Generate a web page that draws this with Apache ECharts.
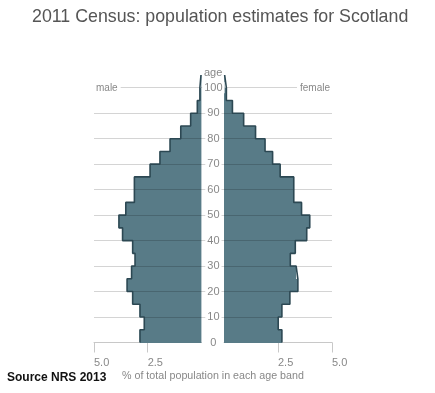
<!DOCTYPE html>
<html>
<head>
<meta charset="utf-8">
<script src="https://cdn.jsdelivr.net/npm/echarts@6/dist/echarts.min.js"></script>
<style>
html,body{margin:0;padding:0;background:#fff;}
#chart{width:435px;height:393px;}
</style>
</head>
<body>
<div id="chart"></div>
<script>
// Age band starts (each band is 5 years wide; last band is 100+)
const bandStarts = [0,5,10,15,20,25,30,35,40,45,50,55,60,65,70,75,80,85,90,95,100];
const bandWidth = 5;
// % of total population in each age band
const male   = [2.86,2.66,2.86,3.20,3.46,3.25,3.09,3.20,3.67,3.84,3.52,3.12,3.12,2.39,1.93,1.46,0.96,0.50,0.19,0.07,0.02];
const female = [2.68,2.51,2.68,3.05,3.42,3.34,3.07,3.30,3.83,3.97,3.59,3.23,3.23,2.60,2.25,1.90,1.46,0.91,0.39,0.11,0.03];
const xTicks = [2.5, 5];

const FILL = '#587b87';
const EDGE = '#2c4853';
const GRID_COLOR = 'rgba(0,0,0,0.17)';
const AXIS_COLOR = '#c8c8c8';
const LABEL_COLOR = '#888';
const FONT = 'Liberation Sans, Arial, sans-serif';

function bandData(vals){
  return vals.map((v,i)=>[bandStarts[i], bandStarts[i]+bandWidth, v]);
}
function outlineData(vals){
  const pts = [];
  vals.forEach((v,i)=>{ pts.push([v, bandStarts[i]]); pts.push([v, bandStarts[i]+bandWidth]); });
  return pts;
}
function renderBand(params, api){
  const p0 = api.coord([0, api.value(0)]);
  const p1 = api.coord([api.value(2), api.value(1)]);
  const y0 = Math.round(Math.min(p0[1], p1[1]));
  const y1 = Math.round(Math.max(p0[1], p1[1]));
  return {
    type: 'rect',
    shape: {
      x: Math.min(p0[0], p1[0]),
      y: y0,
      width: Math.abs(p1[0]-p0[0]),
      height: y1 - y0
    },
    style: { fill: FILL }
  };
}

const yMax = 105;
const chart = echarts.init(document.getElementById('chart'), null, {renderer:'canvas'});

const xAxisCommon = {
  type: 'value', min: 0, max: 5, interval: 2.5,
  axisLine: { show: true, lineStyle: { color: AXIS_COLOR, width: 1 } },
  axisTick: { show: true, length: 10, customValues: xTicks, lineStyle: { color: AXIS_COLOR } },
  axisLabel: { customValues: xTicks, align: 'left', margin: 15, color: LABEL_COLOR, fontSize: 11,
               fontFamily: FONT, formatter: v => v.toFixed(1) },
  splitLine: { show: false }
};

chart.setOption({
  animation: false,
  backgroundColor: '#fff',
  title: [
    { text: '2011 Census: population estimates for Scotland', left: 32, top: 8, padding: 0,
      textStyle: { fontSize: 17.8, fontWeight: 'normal', color: '#555', fontFamily: FONT } },
    { text: 'male', left: 93, top: 83, padding: [0,3,0,3], backgroundColor: '#fff',
      textStyle: { fontSize: 10, fontWeight: 'normal', color: LABEL_COLOR, fontFamily: FONT } },
    { text: 'female', left: 297, top: 83, padding: [0,3,0,3], backgroundColor: '#fff',
      textStyle: { fontSize: 10, fontWeight: 'normal', color: LABEL_COLOR, fontFamily: FONT } },
    { text: 'age', left: 204, top: 67, padding: 0,
      textStyle: { fontSize: 11, fontWeight: 'normal', color: LABEL_COLOR, fontFamily: FONT } },
    { text: 'Source NRS 2013', left: 7, top: 372, padding: 0,
      textStyle: { fontSize: 12, fontWeight: 'bold', color: '#111', fontFamily: FONT } },
    { text: '% of total population in each age band', left: 122, top: 371, padding: 0,
      textStyle: { fontSize: 10.7, fontWeight: 'normal', color: LABEL_COLOR, fontFamily: FONT } }
  ],
  grid: [
    { left: 94, width: 107.4, top: 75, height: 267.5 },
    { left: 224, width: 108, top: 75, height: 267.5 },
    { left: 94, width: 238, top: 75, height: 267.5 }
  ],
  xAxis: [
    Object.assign({ gridIndex: 0, inverse: true }, xAxisCommon),
    Object.assign({ gridIndex: 1 }, xAxisCommon),
    { gridIndex: 2, type: 'value', min: 0, max: 1, show: false }
  ],
  yAxis: [
    { gridIndex: 0, type: 'value', min: 0, max: yMax, interval: 10, position: 'right', z: 5,
      axisLine: { show: false }, axisTick: { show: false }, splitLine: { show: false },
      axisLabel: { show: true, showMaxLabel: false, align: 'center', margin: 12, color: LABEL_COLOR, fontSize: 11,
                   fontFamily: FONT, backgroundColor: '#fff', padding: [0,2,0,2],
                   formatter: v => (v > 100 ? '' : String(v)) } },
    { gridIndex: 1, type: 'value', min: 0, max: yMax, interval: 10, show: false },
    { gridIndex: 2, type: 'value', min: 0, max: yMax, interval: 10, z: 2.5,
      axisLine: { show: false }, axisTick: { show: false }, axisLabel: { show: false },
      splitLine: { show: true, showMaxLine: false, showMinLine: false, lineStyle: { color: GRID_COLOR, width: 1 } } }
  ],
  series: [
    { name: 'male', type: 'custom', xAxisIndex: 0, yAxisIndex: 0, renderItem: renderBand,
      encode: { x: 2, y: [0,1] }, data: bandData(male), z: 2 },
    { name: 'female', type: 'custom', xAxisIndex: 1, yAxisIndex: 1, renderItem: renderBand,
      encode: { x: 2, y: [0,1] }, data: bandData(female), z: 2 },
    { name: 'male outline', type: 'line', xAxisIndex: 0, yAxisIndex: 0, data: outlineData(male),
      symbol: 'none', lineStyle: { color: EDGE, width: 1.6 }, z: 3, clip: false },
    { name: 'female outline', type: 'line', xAxisIndex: 1, yAxisIndex: 1, data: outlineData(female),
      symbol: 'none', lineStyle: { color: EDGE, width: 1.6 }, z: 3, clip: false }
  ]
});
</script>
</body>
</html>
